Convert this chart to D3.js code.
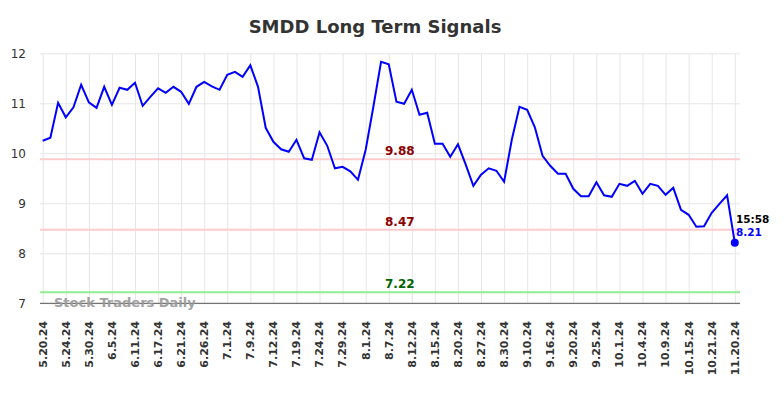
<!DOCTYPE html>
<html>
<head>
<meta charset="utf-8">
<script src="https://cdn.jsdelivr.net/npm/d3@7"></script>
<style>
  body { margin: 0; background: #fff; }
  svg { font-family: "DejaVu Sans", sans-serif; }
  .grid line { stroke: #e6e6e6; stroke-width: 1; }
  .grid path { display: none; }
</style>
</head>
<body>
<svg width="784" height="398"></svg>
<script>
// tick labels, one every 3rd point
var dates = ["5.20.24","5.24.24","5.30.24","6.5.24","6.11.24","6.17.24","6.21.24","6.26.24",
  "7.1.24","7.9.24","7.12.24","7.19.24","7.24.24","7.29.24","8.1.24","8.7.24","8.12.24",
  "8.15.24","8.20.24","8.27.24","8.30.24","9.10.24","9.16.24","9.20.24","9.25.24","10.1.24",
  "10.4.24","10.9.24","10.15.24","10.21.24","11.20.24"];

var prices = [10.25,10.31,11.01,10.72,10.92,11.37,11.02,10.91,11.33,10.97,
  11.31,11.27,11.41,10.95,11.13,11.30,11.21,11.33,11.23,10.99,
  11.33,11.43,11.34,11.27,11.57,11.63,11.53,11.76,11.33,10.51,
  10.23,10.08,10.03,10.27,9.90,9.87,10.42,10.15,9.70,9.73,
  9.64,9.47,10.07,10.93,11.83,11.78,11.03,10.99,11.27,10.77,
  10.81,10.19,10.19,9.93,10.18,9.78,9.35,9.57,9.70,9.65,
  9.43,10.27,10.93,10.87,10.52,9.95,9.75,9.59,9.59,9.29,
  9.14,9.14,9.42,9.16,9.13,9.39,9.35,9.45,9.19,9.39,
  9.35,9.17,9.31,8.87,8.77,8.53,8.54,8.81,8.99,9.16,8.21];

var levels = [9.88, 8.47, 7.22];
var levelKind = ["res", "res", "sup"];
var yTicks = [7, 8, 9, 10, 11, 12];
var lastTime = "15:58";

var svg = d3.select("svg");
var pLeft = 40, pRight = 740, pTop = 53.3, pBottom = 303.3;

var x = d3.scaleLinear()
    .domain([0, prices.length - 1])
    .range([42.7, 734.8]);

var y = d3.scaleLinear()
    .domain([7, 12])
    .range([pBottom, pTop]);

var tickIdx = dates.map(function(d, i) { return i * 3; });

// horizontal grid
svg.append("g")
    .attr("class", "grid")
    .attr("transform", "translate(" + pLeft + ",0)")
    .call(d3.axisLeft(y).tickValues(yTicks).tickSize(-(pRight - pLeft)).tickFormat(""));

// vertical grid
svg.append("g")
    .attr("class", "grid")
    .attr("transform", "translate(0," + pBottom + ")")
    .call(d3.axisBottom(x).tickValues(tickIdx).tickSize(-(pBottom - pTop)).tickFormat(""));

// y labels
svg.append("g").selectAll("text")
    .data(yTicks)
  .enter().append("text")
    .attr("x", 26)
    .attr("y", function(d) { return y(d); })
    .attr("dy", "0.35em")
    .attr("text-anchor", "end")
    .attr("font-size", 12)
    .attr("fill", "#333")
    .text(function(d) { return d; });

// x labels
svg.append("g").selectAll("text")
    .data(dates)
  .enter().append("text")
    .attr("transform", function(d, i) { return "translate(" + x(i * 3) + ",321) rotate(-90)"; })
    .attr("dy", "0.35em")
    .attr("text-anchor", "end")
    .attr("font-size", 11)
    .attr("font-weight", "bold")
    .attr("fill", "#333")
    .text(function(d) { return d; });

// signal levels
svg.append("g").selectAll("line")
    .data(levels)
  .enter().append("line")
    .attr("x1", pLeft).attr("x2", pRight)
    .attr("y1", function(d) { return y(d); })
    .attr("y2", function(d) { return y(d); })
    .attr("stroke", function(d, i) { return levelKind[i] == "sup" ? "#90ee90" : "#ffcccc"; })
    .attr("stroke-width", 2);

svg.append("g").selectAll("text")
    .data(levels)
  .enter().append("text")
    .attr("x", 385)
    .attr("y", function(d) { return y(d) - 4; })
    .attr("font-size", 12)
    .attr("font-weight", "bold")
    .attr("fill", function(d, i) { return levelKind[i] == "sup" ? "#006400" : "#8b0000"; })
    .text(function(d) { return d.toFixed(2); });

// x axis line
svg.append("line")
    .attr("x1", pLeft).attr("x2", pRight)
    .attr("y1", pBottom).attr("y2", pBottom)
    .attr("stroke", "#555").attr("stroke-width", 1);

// watermark
svg.append("text")
    .attr("x", 54).attr("y", 307)
    .attr("font-size", 13)
    .attr("font-weight", "bold")
    .attr("fill", "#999")
    .attr("opacity", 0.9)
    .text("Stock Traders Daily");

// price line
var line = d3.line()
    .x(function(d, i) { return x(i); })
    .y(function(d) { return y(d); });

svg.append("path")
    .datum(prices)
    .attr("d", line)
    .attr("fill", "none")
    .attr("stroke", "#0000ff")
    .attr("stroke-width", 2);

var n = prices.length - 1;
svg.append("circle")
    .attr("cx", x(n)).attr("cy", y(prices[n]))
    .attr("r", 4)
    .attr("fill", "#0000ff");

svg.append("text")
    .attr("x", 736).attr("y", 223)
    .attr("font-size", 10.5).attr("font-weight", "bold")
    .attr("fill", "#000")
    .text(lastTime);

svg.append("text")
    .attr("x", 736).attr("y", 235.5)
    .attr("font-size", 10.5).attr("font-weight", "bold")
    .attr("fill", "#0000ff")
    .text(prices[n].toFixed(2));

// title
svg.append("text")
    .attr("x", 375).attr("y", 33)
    .attr("text-anchor", "middle")
    .attr("font-size", 18)
    .attr("font-weight", "bold")
    .attr("fill", "#333")
    .text("SMDD Long Term Signals");
</script>
</body>
</html>
